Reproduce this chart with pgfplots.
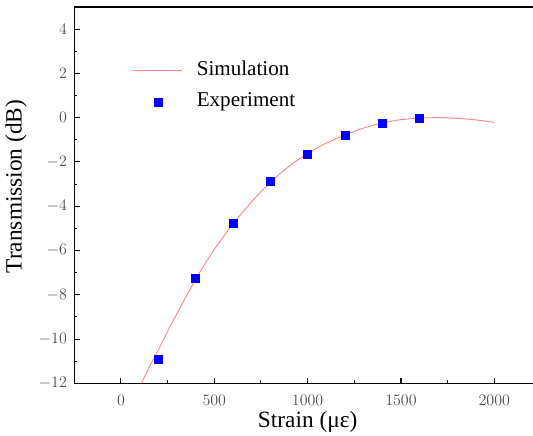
\documentclass[border=0pt]{standalone}
\usepackage{fontspec}
\setmainfont{Liberation Serif}
\usepackage{pgfplots}
\pgfplotsset{compat=1.18}

\definecolor{simred}{RGB}{255,135,135}
\definecolor{expblue}{RGB}{0,0,255}

\pgfplotsset{
  simleg/.style={legend image code/.code={\draw[##1] (0pt,0pt) -- (36.75pt,0pt);}},
  expleg/.style={legend image code/.code={\path (0pt,0pt) (36.75pt,0pt);
    \draw[##1] plot coordinates {(18.4pt,0pt)};}},
}

\begin{document}
\begin{tikzpicture}
\begin{axis}[
  name=ax,
  scale only axis,
  width=350pt, height=282.2pt,
  xmin=-250, xmax=2250,
  ymin=-12, ymax=5,
  xtick={0,500,1000,1500,2000},
  ytick={-12,-10,-8,-6,-4,-2,0,2,4},
  minor x tick num=1, minor y tick num=1,
  tick align=inside,
  xtick pos=left, ytick pos=left,
  major tick length=4pt, minor tick length=2.2pt,
  axis line style={line width=1pt},
  tick style={black, line width=0.8pt},
  /pgf/number format/1000 sep={},
  ticklabel style={font=\fontsize{11.5}{13}\selectfont, text=black!70},
  xticklabel style={yshift=-5.4pt},
  yticklabel style={xshift=-2pt},
  xlabel={Strain (με)},
  ylabel={Transmission (dB)},
  every axis x label/.style={at={(axis description cs:0.5,0)}, anchor=base,
    yshift=-33.5pt, inner sep=0pt, font=\fontsize{17.5}{20}\selectfont},
  every axis y label/.style={at={(axis description cs:0,0.523)}, xshift=-43.7pt,
    anchor=center, rotate=90, font=\fontsize{17.5}{20}\selectfont},
  legend style={at={(axis cs:64,2.57)}, anchor=north west,
    draw=none, fill=none, inner sep=0pt, outer sep=0pt,
    font=\fontsize{15.8}{18}\selectfont,
    row sep=8.25pt,
    nodes={inner sep=0pt, outer sep=0pt, text height=11pt, text depth=4pt},
    /tikz/every odd column/.append style={column sep=10.5pt}},
  legend cell align=left,
]

% fitted curve
\addplot[simred, line width=0.7pt, smooth, simleg]
  coordinates {
    (110,-12.0) (150,-11.3) (200,-10.5) (250,-9.65) (300,-8.85)
    (400,-7.3) (500,-5.95) (600,-4.8) (700,-3.8) (800,-2.92)
    (900,-2.2) (1000,-1.62) (1100,-1.15) (1200,-0.78) (1300,-0.47)
    (1400,-0.24) (1500,-0.09) (1600,-0.02) (1700,0.0) (1800,-0.03)
    (1900,-0.10) (2000,-0.21)
  };
\addlegendentry{Simulation}

% measured points
\addplot[only marks, mark=square*, mark size=3pt,
  mark options={draw=expblue, fill=expblue}, expleg]
  coordinates {
    (200,-10.92) (400,-7.26) (600,-4.77) (800,-2.85)
    (1000,-1.65) (1200,-0.81) (1400,-0.24) (1600,-0.01)
  };
\addlegendentry{Experiment}

\end{axis}
\pgfresetboundingbox
\path[use as bounding box] ([xshift=-55.7pt,yshift=-39.5pt]ax.south west)
  rectangle ([xshift=344pt,yshift=5.25pt]ax.north west);
\end{tikzpicture}
\end{document}
